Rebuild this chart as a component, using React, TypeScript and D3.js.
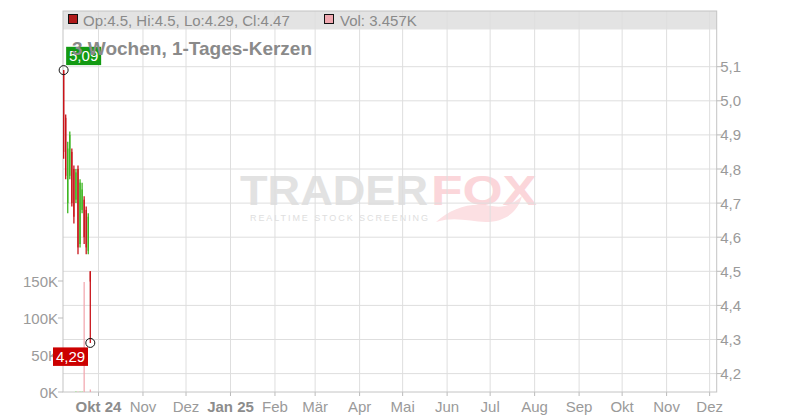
import * as d3 from 'd3';

// candle data (3 weeks, daily)
const dates = ['2024-09-06', '2024-09-09', '2024-09-10', '2024-09-11', '2024-09-12', '2024-09-13', '2024-09-16',
  '2024-09-17', '2024-09-18', '2024-09-19', '2024-09-20', '2024-09-23', '2024-09-24', '2024-09-25'];
const opens = [5.09, 4.95, 4.7, 4.78, 4.85, 4.8, 4.71, 4.8, 4.58, 4.68, 4.71, 4.68, 4.56, 4.5];
const highs = [5.09, 4.96, 4.88, 4.91, 4.86, 4.81, 4.8, 4.81, 4.77, 4.76, 4.72, 4.69, 4.67, 4.5];
const lows = [4.83, 4.77, 4.67, 4.77, 4.69, 4.64, 4.7, 4.55, 4.57, 4.67, 4.58, 4.55, 4.55, 4.29];
const closes = [4.85, 4.78, 4.86, 4.9, 4.7, 4.66, 4.79, 4.57, 4.76, 4.74, 4.6, 4.57, 4.66, 4.47];
const volumes = [0, 0, 0, 0, 0, 0, 1200, 800, 1000, 1100, 148500, 0, 0, 3457];

const monthNames = ['Jan', 'Feb', 'Mär', 'Apr', 'Mai', 'Jun', 'Jul', 'Aug', 'Sep', 'Okt', 'Nov', 'Dez'];
const priceTicks = [4.2, 4.3, 4.4, 4.5, 4.6, 4.7, 4.8, 4.9, 5.0, 5.1];
const volTicks = [0, 50000, 100000, 150000];

const FONT = 'Liberation Sans, Arial, sans-serif';
const W = 800;
const H = 420;
const left = 63;
const right = 716.7;
const top = 11;
const bottom = 392;
const headerH = 18.5;

const RED = '#c8141a';
const GREEN = '#3cb521';

export default function App() {
  const x = d3.scaleTime()
    .domain([new Date(2024, 8, 6, 6), new Date(2025, 11, 5, 22)])
    .range([left, right]);

  const parse = d3.timeParse('%Y-%m-%d');
  const candleX = d3.scalePoint<string>()
    .domain(dates)
    .range([x(parse(dates[0])!) + 1, x(parse(dates[dates.length - 1])!) + 0.4]);

  const y = d3.scaleLinear().domain([4.2, 5.1]).range([373.6, 66.7]);
  const yVol = d3.scaleLinear().domain([0, 150000]).range([bottom, 281]);

  const months = x.ticks(d3.timeMonth.every(1)!);
  const fmtPrice = (v: number) => d3.format('.1f')(v).replace('.', ',');
  const fmtLabel = (v: number) => d3.format('.2f')(v).replace('.', ',');

  const hiIdx = d3.maxIndex(highs);
  const loIdx = d3.minIndex(lows);
  const hx = candleX(dates[hiIdx])!;
  const hy = y(highs[hiIdx]);
  const lx = candleX(dates[loIdx])!;
  const ly = y(lows[loIdx]);

  const last = dates.length - 1;

  return (
    <div style={{ position: 'fixed', left: 0, top: 0 }}>
      <svg width={W} height={H} style={{ display: 'block', background: '#fff' }} fontFamily={FONT}>
        {/* header band */}
        <rect x={left} y={top} width={right - left} height={headerH} fill="#e3e3e3" />

        {/* watermark */}
        <g>
          <text x={240} y={205} fontSize={42} fontWeight="bold" fill="#e2e2e2" textLength={188} lengthAdjust="spacingAndGlyphs">TRADER</text>
          <text x={431} y={205} fontSize={42} fontWeight="bold" fill="#fbd6da" textLength={106} lengthAdjust="spacingAndGlyphs">FOX</text>
          <path d="M436,222 C452,208 470,202 492,206 C505,209 514,203 522,196 C518,212 505,222 486,222 C470,222 456,216 436,222 Z" fill="#fce0e3" />
          <text x={250} y={221} fontSize={9} fill="#dedede" textLength={178} lengthAdjust="spacing">REALTIME STOCK SCREENING</text>
        </g>

        {/* horizontal grid */}
        {priceTicks.map(t => (
          <line key={'h' + t} x1={left} x2={right} y1={y(t)} y2={y(t)} stroke="#dedede" />
        ))}
        {/* vertical grid + ticks */}
        {months.map(m => (
          <g key={'v' + m.getTime()}>
            <line x1={x(m)} x2={x(m)} y1={top} y2={bottom} stroke="#dedede" />
            <line x1={x(m)} x2={x(m)} y1={bottom} y2={bottom + 4} stroke="#bbb" />
          </g>
        ))}

        {/* frame */}
        <rect x={left} y={top} width={right - left} height={bottom - top} fill="none" stroke="#c4c4c4" />

        {/* price axis */}
        {priceTicks.map(t => (
          <g key={'p' + t}>
            <line x1={right} x2={right + 5} y1={y(t)} y2={y(t)} stroke="#bbb" />
            <text x={right + 3.5} y={y(t) + 5.5} fontSize={15} fill="#9a9a9a">{fmtPrice(t)}</text>
          </g>
        ))}

        {/* volume axis */}
        {volTicks.map(t => (
          <g key={'vol' + t}>
            <line x1={left - 5} x2={left} y1={yVol(t)} y2={yVol(t)} stroke="#bbb" />
            <text x={left - 5} y={yVol(t) + 5.5} fontSize={15} fill="#9a9a9a" textAnchor="end">{`${t / 1000}K`}</text>
          </g>
        ))}

        {/* month labels */}
        {months.map((m, i) => {
          const bold = i === 0 || m.getMonth() === 0;
          const name = monthNames[m.getMonth()];
          const label = bold ? `${name} ${d3.timeFormat('%y')(m)}` : name;
          return (
            <text key={'m' + m.getTime()} x={x(m)} y={412} fontSize={15} textAnchor="middle"
              fill={bold ? '#8c8c8c' : '#9a9a9a'} fontWeight={bold ? 'bold' : 'normal'}>{label}</text>
          );
        })}

        {/* volume bars */}
        {dates.map((d, i) => volumes[i] > 0 && (
          <line key={'vb' + d} x1={candleX(d)} x2={candleX(d)} y1={yVol(volumes[i])} y2={bottom}
            stroke={closes[i] < opens[i] ? '#f2a3ab' : '#a8e29a'} strokeWidth={1.2} />
        ))}

        {/* candles */}
        {dates.map((d, i) => {
          const c = closes[i] < opens[i] ? RED : GREEN;
          const cx = candleX(d)!;
          return (
            <g key={'c' + d}>
              <line x1={cx} x2={cx} y1={y(highs[i])} y2={y(lows[i])} stroke={c} strokeWidth={1.3} />
              <rect x={cx - 0.65} width={1.3} y={y(Math.max(opens[i], closes[i]))}
                height={Math.abs(y(opens[i]) - y(closes[i]))} fill={c} />
            </g>
          );
        })}

        {/* high / low markers */}
        <circle cx={hx} cy={hy} r={4.5} fill="none" stroke="#111" strokeWidth={1} />
        <circle cx={lx} cy={ly} r={4.5} fill="none" stroke="#111" strokeWidth={1} />

        <rect x={hx + 2.5} y={hy - 23.3} width={35} height={18.3} fill="#129a12" />
        <text x={hx + 20} y={hy - 8.8} fontSize={15} fill="#fff" textAnchor="middle">{fmtLabel(highs[hiIdx])}</text>

        {/* title */}
        <text x={72} y={54.5} fontSize={19} fontWeight="bold" fill="#8a8a8a">3 Wochen, 1-Tages-Kerzen</text>

        <rect x={lx - 37.3} y={ly + 4.5} width={35} height={18.5} fill="#cc0000" />
        <text x={lx - 19.8} y={ly + 19} fontSize={15} fill="#fff" textAnchor="middle">{fmtLabel(lows[loIdx])}</text>

        {/* header legend */}
        <rect x={68.5} y={14.5} width={9} height={9} fill="#b01a1a" stroke="#111" />
        <text x={83} y={25.5} fontSize={15} fill="#8a8a8a">
          {`Op:${opens[last]}, Hi:${highs[last]}, Lo:${lows[last]}, Cl:${closes[last]}`}
        </text>
        <rect x={324.5} y={14.5} width={9} height={9} fill="#f0a8b0" stroke="#111" />
        <text x={340} y={25.5} fontSize={15} fill="#8a8a8a">{`Vol: ${d3.format('.3f')(volumes[last] / 1000)}K`}</text>
      </svg>
    </div>
  );
}
